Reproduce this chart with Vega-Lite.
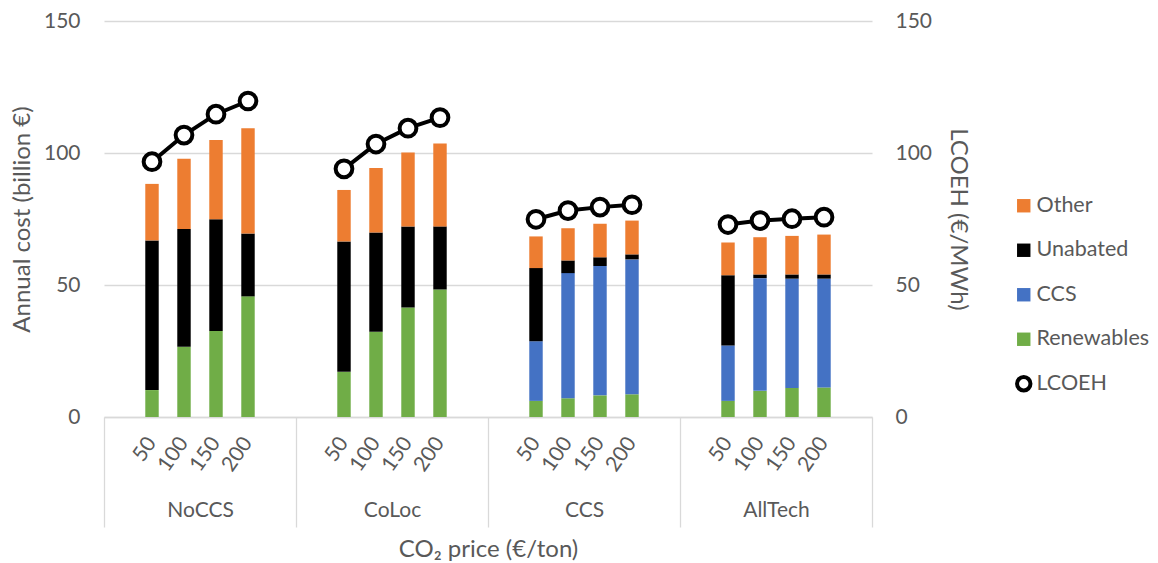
{
  "$schema": "https://vega.github.io/schema/vega-lite/v6.json",
  "autosize": {"type": "none"},
  "padding": {"left": 104, "top": 21, "right": 286, "bottom": 146},
  "width": 768,
  "height": 396,
  "background": "white",
  "config": {
    "font": "Lato",
    "view": {"stroke": null},
    "axis": {"labelFont": "Lato", "labelFontSize": 21, "labelColor": "#595959", "titleFont": "Lato", "titleFontSize": 24, "titleFontWeight": "normal", "titleColor": "#595959"},
    "legend": {"labelFont": "Lato", "labelFontSize": 21.5, "labelColor": "#595959"}
  },
  "datasets": {
    "cost": [
      {"group": "NoCCS", "price": "50", "key": "NoCCS|50", "component": "Renewables", "value": 10.2},
      {"group": "NoCCS", "price": "50", "key": "NoCCS|50", "component": "Unabated", "value": 56.7},
      {"group": "NoCCS", "price": "50", "key": "NoCCS|50", "component": "Other", "value": 21.4},
      {"group": "NoCCS", "price": "100", "key": "NoCCS|100", "component": "Renewables", "value": 26.6},
      {"group": "NoCCS", "price": "100", "key": "NoCCS|100", "component": "Unabated", "value": 44.6},
      {"group": "NoCCS", "price": "100", "key": "NoCCS|100", "component": "Other", "value": 26.6},
      {"group": "NoCCS", "price": "150", "key": "NoCCS|150", "component": "Renewables", "value": 32.6},
      {"group": "NoCCS", "price": "150", "key": "NoCCS|150", "component": "Unabated", "value": 42.3},
      {"group": "NoCCS", "price": "150", "key": "NoCCS|150", "component": "Other", "value": 30.0},
      {"group": "NoCCS", "price": "200", "key": "NoCCS|200", "component": "Renewables", "value": 45.7},
      {"group": "NoCCS", "price": "200", "key": "NoCCS|200", "component": "Unabated", "value": 23.8},
      {"group": "NoCCS", "price": "200", "key": "NoCCS|200", "component": "Other", "value": 39.9},
      {"group": "CoLoc", "price": "50", "key": "CoLoc|50", "component": "Renewables", "value": 17.1},
      {"group": "CoLoc", "price": "50", "key": "CoLoc|50", "component": "Unabated", "value": 49.4},
      {"group": "CoLoc", "price": "50", "key": "CoLoc|50", "component": "Other", "value": 19.5},
      {"group": "CoLoc", "price": "100", "key": "CoLoc|100", "component": "Renewables", "value": 32.3},
      {"group": "CoLoc", "price": "100", "key": "CoLoc|100", "component": "Unabated", "value": 37.6},
      {"group": "CoLoc", "price": "100", "key": "CoLoc|100", "component": "Other", "value": 24.4},
      {"group": "CoLoc", "price": "150", "key": "CoLoc|150", "component": "Renewables", "value": 41.5},
      {"group": "CoLoc", "price": "150", "key": "CoLoc|150", "component": "Unabated", "value": 30.7},
      {"group": "CoLoc", "price": "150", "key": "CoLoc|150", "component": "Other", "value": 28.0},
      {"group": "CoLoc", "price": "200", "key": "CoLoc|200", "component": "Renewables", "value": 48.3},
      {"group": "CoLoc", "price": "200", "key": "CoLoc|200", "component": "Unabated", "value": 23.9},
      {"group": "CoLoc", "price": "200", "key": "CoLoc|200", "component": "Other", "value": 31.4},
      {"group": "CCS", "price": "50", "key": "CCS|50", "component": "Renewables", "value": 6.1},
      {"group": "CCS", "price": "50", "key": "CCS|50", "component": "CCS", "value": 22.6},
      {"group": "CCS", "price": "50", "key": "CCS|50", "component": "Unabated", "value": 27.7},
      {"group": "CCS", "price": "50", "key": "CCS|50", "component": "Other", "value": 12.0},
      {"group": "CCS", "price": "100", "key": "CCS|100", "component": "Renewables", "value": 7.1},
      {"group": "CCS", "price": "100", "key": "CCS|100", "component": "CCS", "value": 47.4},
      {"group": "CCS", "price": "100", "key": "CCS|100", "component": "Unabated", "value": 4.8},
      {"group": "CCS", "price": "100", "key": "CCS|100", "component": "Other", "value": 12.2},
      {"group": "CCS", "price": "150", "key": "CCS|150", "component": "Renewables", "value": 8.2},
      {"group": "CCS", "price": "150", "key": "CCS|150", "component": "CCS", "value": 49.0},
      {"group": "CCS", "price": "150", "key": "CCS|150", "component": "Unabated", "value": 3.3},
      {"group": "CCS", "price": "150", "key": "CCS|150", "component": "Other", "value": 12.7},
      {"group": "CCS", "price": "200", "key": "CCS|200", "component": "Renewables", "value": 8.6},
      {"group": "CCS", "price": "200", "key": "CCS|200", "component": "CCS", "value": 51.1},
      {"group": "CCS", "price": "200", "key": "CCS|200", "component": "Unabated", "value": 1.9},
      {"group": "CCS", "price": "200", "key": "CCS|200", "component": "Other", "value": 12.8},
      {"group": "AllTech", "price": "50", "key": "AllTech|50", "component": "Renewables", "value": 6.1},
      {"group": "AllTech", "price": "50", "key": "AllTech|50", "component": "CCS", "value": 21.0},
      {"group": "AllTech", "price": "50", "key": "AllTech|50", "component": "Unabated", "value": 26.6},
      {"group": "AllTech", "price": "50", "key": "AllTech|50", "component": "Other", "value": 12.4},
      {"group": "AllTech", "price": "100", "key": "AllTech|100", "component": "Renewables", "value": 9.9},
      {"group": "AllTech", "price": "100", "key": "AllTech|100", "component": "CCS", "value": 42.7},
      {"group": "AllTech", "price": "100", "key": "AllTech|100", "component": "Unabated", "value": 1.4},
      {"group": "AllTech", "price": "100", "key": "AllTech|100", "component": "Other", "value": 14.1},
      {"group": "AllTech", "price": "150", "key": "AllTech|150", "component": "Renewables", "value": 11.0},
      {"group": "AllTech", "price": "150", "key": "AllTech|150", "component": "CCS", "value": 41.4},
      {"group": "AllTech", "price": "150", "key": "AllTech|150", "component": "Unabated", "value": 1.6},
      {"group": "AllTech", "price": "150", "key": "AllTech|150", "component": "Other", "value": 14.6},
      {"group": "AllTech", "price": "200", "key": "AllTech|200", "component": "Renewables", "value": 11.2},
      {"group": "AllTech", "price": "200", "key": "AllTech|200", "component": "CCS", "value": 41.2},
      {"group": "AllTech", "price": "200", "key": "AllTech|200", "component": "Unabated", "value": 1.6},
      {"group": "AllTech", "price": "200", "key": "AllTech|200", "component": "Other", "value": 15.1}
    ],
    "lcoeh": [
      {"group": "NoCCS", "key": "NoCCS|50", "series": "LCOEH", "lcoeh": 96.7},
      {"group": "NoCCS", "key": "NoCCS|100", "series": "LCOEH", "lcoeh": 106.8},
      {"group": "NoCCS", "key": "NoCCS|150", "series": "LCOEH", "lcoeh": 114.7},
      {"group": "NoCCS", "key": "NoCCS|200", "series": "LCOEH", "lcoeh": 119.7},
      {"group": "CoLoc", "key": "CoLoc|50", "series": "LCOEH", "lcoeh": 94.0},
      {"group": "CoLoc", "key": "CoLoc|100", "series": "LCOEH", "lcoeh": 103.4},
      {"group": "CoLoc", "key": "CoLoc|150", "series": "LCOEH", "lcoeh": 109.4},
      {"group": "CoLoc", "key": "CoLoc|200", "series": "LCOEH", "lcoeh": 113.4},
      {"group": "CCS", "key": "CCS|50", "series": "LCOEH", "lcoeh": 74.9},
      {"group": "CCS", "key": "CCS|100", "series": "LCOEH", "lcoeh": 78.2},
      {"group": "CCS", "key": "CCS|150", "series": "LCOEH", "lcoeh": 79.5},
      {"group": "CCS", "key": "CCS|200", "series": "LCOEH", "lcoeh": 80.4},
      {"group": "AllTech", "key": "AllTech|50", "series": "LCOEH", "lcoeh": 72.9},
      {"group": "AllTech", "key": "AllTech|100", "series": "LCOEH", "lcoeh": 74.4},
      {"group": "AllTech", "key": "AllTech|150", "series": "LCOEH", "lcoeh": 75.1},
      {"group": "AllTech", "key": "AllTech|200", "series": "LCOEH", "lcoeh": 75.7}
    ],
    "groups": [
      {"group": "NoCCS"},
      {"group": "CoLoc"},
      {"group": "CCS"},
      {"group": "AllTech"}
    ]
  },
  "layer": [
    {
      "data": {"name": "cost"},
      "transform": [
        {"calculate": "indexof(['Renewables', 'CCS', 'Unabated', 'Other'], datum.component)", "as": "stack_rank"}
      ],
      "mark": {"type": "bar"},
      "encoding": {
        "x": {
          "field": "key",
          "type": "nominal",
          "scale": {
            "domain": ["NoCCS|", "NoCCS|50", "NoCCS|100", "NoCCS|150", "NoCCS|200", "NoCCS||",
                       "CoLoc|", "CoLoc|50", "CoLoc|100", "CoLoc|150", "CoLoc|200", "CoLoc||",
                       "CCS|", "CCS|50", "CCS|100", "CCS|150", "CCS|200", "CCS||",
                       "AllTech|", "AllTech|50", "AllTech|100", "AllTech|150", "AllTech|200", "AllTech||"],
            "paddingInner": 0.58,
            "paddingOuter": 0.29
          },
          "axis": {
            "title": null,
            "labelExpr": "split(datum.value, '|')[1]",
            "labelAngle": -55,
            "labelPadding": 22,
            "labelOverlap": false,
            "ticks": false,
            "domain": true,
            "domainColor": "#d9d9d9",
            "domainWidth": 1.3,
            "grid": false
          }
        },
        "y": {
          "field": "value",
          "type": "quantitative",
          "stack": "zero",
          "scale": {"domain": [0, 150]},
          "axis": {
            "title": "Annual cost (billion €)",
            "values": [0, 50, 100, 150],
            "grid": true,
            "gridColor": "#d9d9d9",
            "gridWidth": 1.3,
            "domain": false,
            "ticks": false,
            "labelPadding": 24,
            "titleAngle": 270,
            "titleX": -81.5,
            "titleY": 198,
            "titleBaseline": "middle",
            "titleAlign": "center"
          }
        },
        "order": {"field": "stack_rank", "type": "quantitative", "sort": "ascending"},
        "color": {
          "field": "component",
          "type": "nominal",
          "scale": {
            "domain": ["Other", "Unabated", "CCS", "Renewables", "LCOEH"],
            "range": ["#ED7D31", "#000000", "#4472C4", "#70AD47", "#ffffff"]
          },
          "legend": {
            "title": null,
            "orient": "none",
            "legendX": 909,
            "legendY": 174,
            "padding": 0,
            "symbolSize": 180,
            "symbolStrokeWidth": 4,
            "rowPadding": 14.5,
            "labelOffset": 2
          }
        },
        "stroke": {
          "field": "component",
          "type": "nominal",
          "scale": {
            "domain": ["Other", "Unabated", "CCS", "Renewables", "LCOEH"],
            "range": ["transparent", "transparent", "transparent", "transparent", "#000000"]
          },
          "legend": {
            "title": null,
            "orient": "none",
            "legendX": 909,
            "legendY": 174,
            "padding": 0,
            "symbolSize": 180,
            "symbolStrokeWidth": 4,
            "rowPadding": 14.5,
            "labelOffset": 2
          }
        }
      }
    },
    {
      "data": {"name": "lcoeh"},
      "encoding": {
        "x": {
          "field": "key",
          "type": "nominal",
          "scale": {
            "type": "band",
            "domain": ["NoCCS|", "NoCCS|50", "NoCCS|100", "NoCCS|150", "NoCCS|200", "NoCCS||",
                       "CoLoc|", "CoLoc|50", "CoLoc|100", "CoLoc|150", "CoLoc|200", "CoLoc||",
                       "CCS|", "CCS|50", "CCS|100", "CCS|150", "CCS|200", "CCS||",
                       "AllTech|", "AllTech|50", "AllTech|100", "AllTech|150", "AllTech|200", "AllTech||"],
            "paddingInner": 0.58,
            "paddingOuter": 0.29
          },
          "axis": null
        },
        "y": {
          "field": "lcoeh",
          "type": "quantitative",
          "scale": {"domain": [0, 150]},
          "axis": {
            "orient": "right",
            "title": "LCOEH (€/MWh)",
            "values": [0, 50, 100, 150],
            "grid": false,
            "domain": false,
            "ticks": false,
            "labelPadding": 23,
            "titleAngle": 90,
            "titleX": 85,
            "titleY": 198,
            "titleBaseline": "middle",
            "titleAlign": "center"
          }
        }
      },
      "layer": [
        {
          "mark": {"type": "line", "color": "black", "strokeWidth": 4},
          "encoding": {"detail": {"field": "group", "type": "nominal"}}
        },
        {
          "mark": {"type": "point", "filled": true, "strokeWidth": 4, "size": 280, "opacity": 1},
          "encoding": {
            "color": {"field": "series", "type": "nominal"},
            "stroke": {"field": "series", "type": "nominal"},
            "shape": {
              "field": "series",
              "type": "nominal",
              "scale": {
                "domain": ["Other", "Unabated", "CCS", "Renewables", "LCOEH"],
                "range": ["square", "square", "square", "square", "circle"]
              },
              "legend": {
                "title": null,
                "orient": "none",
                "legendX": 909,
                "legendY": 174,
                "padding": 0,
                "symbolSize": 180,
                "symbolStrokeWidth": 4,
                "rowPadding": 14.5,
                "labelOffset": 2
              }
            }
          }
        }
      ]
    },
    {
      "data": {"name": "groups"},
      "mark": {"type": "text", "text": ""},
      "encoding": {
        "x": {
          "field": "group",
          "type": "nominal",
          "scale": {"type": "band", "domain": ["NoCCS", "CoLoc", "CCS", "AllTech"], "paddingInner": 0, "paddingOuter": 0},
          "axis": {
            "orient": "bottom",
            "title": "CO₂ price (€/ton)",
            "tickBand": "extent",
            "ticks": true,
            "tickSize": 110,
            "tickColor": "#d9d9d9",
            "tickWidth": 1.3,
            "domain": false,
            "grid": false,
            "labelAngle": 0,
            "labelPadding": -28,
            "titleX": 384,
            "titleY": 132,
            "titleBaseline": "middle",
            "titleAlign": "center"
          }
        }
      }
    }
  ],
  "resolve": {"scale": {"x": "independent", "y": "independent"}}
}
